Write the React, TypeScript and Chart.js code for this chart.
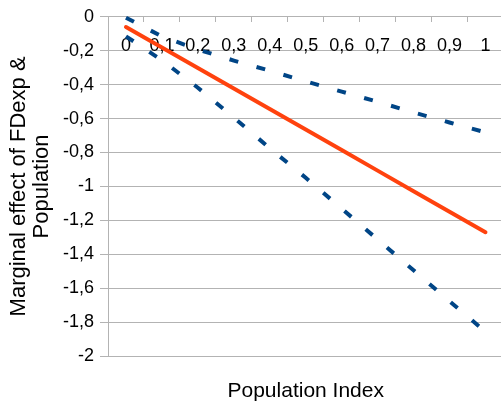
import React, { useEffect, useRef } from 'react';
import { Chart, registerables } from 'chart.js';

Chart.register(...registerables);

const categories = ['0', '0,1', '0,2', '0,3', '0,4', '0,5', '0,6', '0,7', '0,8', '0,9', '1'];
const marginalEffect = [-0.06, -0.181, -0.302, -0.423, -0.544, -0.665, -0.786, -0.907, -1.028, -1.149, -1.27];
const upperBound = [-0.005, -0.116, -0.193, -0.258, -0.318, -0.381, -0.441, -0.501, -0.564, -0.623, -0.681];
const lowerBound = [-0.115, -0.256, -0.418, -0.594, -0.775, -0.949, -1.131, -1.313, -1.495, -1.677, -1.857];
const yTitleLines = ['Marginal effect of FDexp &', 'Population'];
const xTitle = 'Population Index';

export default function App() {
  const ref = useRef<HTMLCanvasElement>(null);

  useEffect(() => {
    if (!ref.current) return;
    Chart.defaults.font.family = "'Liberation Sans', Arial, sans-serif";
    const chart = new Chart(ref.current, {
      type: 'line',
      data: {
        labels: categories,
        datasets: [
          {
            label: 'Upper bound',
            data: upperBound,
            borderColor: '#004586',
            backgroundColor: '#004586',
            borderWidth: 4,
            borderDash: [9, 19],
            pointRadius: 0,
            fill: false,
            tension: 0,
            clip: false,
          },
          {
            label: 'Lower bound',
            data: lowerBound,
            borderColor: '#004586',
            backgroundColor: '#004586',
            borderWidth: 4,
            borderDash: [9, 19],
            pointRadius: 0,
            fill: false,
            tension: 0,
            clip: false,
          },
          {
            label: 'Marginal effect',
            data: marginalEffect,
            borderColor: '#ff420e',
            backgroundColor: '#ff420e',
            borderWidth: 4,
            borderCapStyle: 'round',
            pointRadius: 0,
            fill: false,
            tension: 0,
            clip: false,
          },
        ],
      },
      options: {
        animation: false,
        responsive: true,
        maintainAspectRatio: false,
        layout: { padding: { left: 0, right: 0, top: 14, bottom: 0 } },
        plugins: {
          legend: { display: false },
          tooltip: { enabled: false },
          title: {
            display: true,
            text: xTitle,
            position: 'bottom',
            fullSize: false,
            color: '#000000',
            font: { size: 21, weight: 'normal', lineHeight: 1.2 },
            padding: { top: 22.8, bottom: 6 },
          },
        },
        scales: {
          x: {
            type: 'category',
            position: { y: 0 },
            offset: true,
            grid: {
              display: true,
              drawOnChartArea: false,
              drawTicks: true,
              tickLength: 5,
              offset: true,
              color: '#b3b3b3',
            },
            border: { display: true, color: '#b3b3b3' },
            ticks: {
              color: '#000000',
              font: { size: 18 },
              padding: 13.5,
              maxRotation: 0,
              autoSkip: false,
            },
          },
          y: {
            type: 'linear',
            position: 'left',
            min: -2,
            max: 0,
            afterFit: (s: any) => {
              s.width = 108;
            },
            grid: { color: '#b3b3b3', tickLength: 8 },
            border: { color: '#b3b3b3' },
            ticks: {
              stepSize: 0.2,
              color: '#000000',
              font: { size: 18 },
              padding: 6,
              callback: (v: any) => {
                const n = Math.round(Number(v) * 10) / 10;
                return (n === 0 ? '0' : String(n)).replace('.', ',');
              },
            },
            title: {
              display: true,
              text: yTitleLines,
              color: '#000000',
              font: { size: 22, weight: 'normal', lineHeight: 1.05 },
              padding: { top: 7, bottom: 0 },
            },
          },
        },
      },
    });
    return () => chart.destroy();
  }, []);

  return (
    <div style={{ position: 'absolute', left: 0, top: 0, width: 501, height: 410, overflow: 'hidden', background: '#ffffff' }}>
      <div style={{ position: 'relative', width: 504, height: 410 }}>
        <canvas ref={ref} />
      </div>
    </div>
  );
}
